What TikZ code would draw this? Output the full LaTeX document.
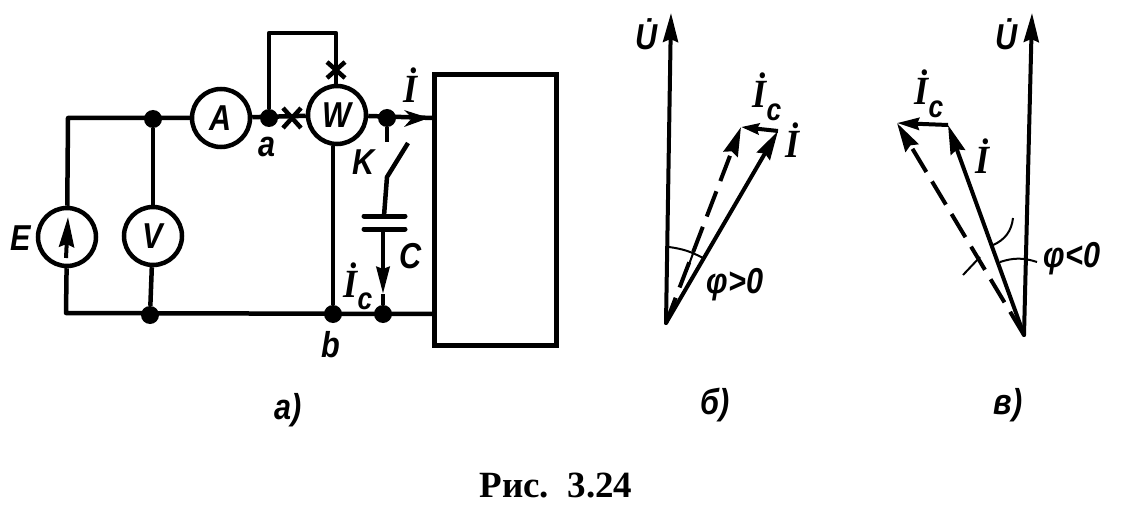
\documentclass[tikz,border=0pt]{standalone}
\usepackage{fontspec}
\setmainfont{Liberation Sans}[FakeStretch=0.85]
\newfontfamily\capfont{Liberation Serif}
\newfontfamily\serfont{Liberation Serif}[FakeStretch=0.9]
\usetikzlibrary{arrows.meta}
\newcommand\Idot{{\fontsize{40}{40}\selectfont\serfont\bfseries\itshape\.I}}
\newcommand\Ic{\Idot\raisebox{-.36em}{\fontsize{31}{31}\selectfont\bfseries\itshape c}}
\tikzset{
  x=1pt,y=-1pt,
  wire/.style={line width=4.5pt,black},
  meter/.style={draw,line width=4.5pt,circle,minimum size=58pt,inner sep=0pt,fill=white,font=\fontsize{36}{36}\selectfont\bfseries\itshape},
  jun/.style={circle,fill=black,minimum size=18pt,inner sep=0pt},
  lab/.style={font=\fontsize{36}{36}\selectfont\bfseries\itshape,inner sep=0pt,anchor=base},
  tip/.style={-{Stealth[length=29pt,width=15pt,inset=3pt]}},
  vec/.style={line width=4pt,tip},
  thinline/.style={line width=2pt},
  dvec/.style={line width=4pt,dash pattern=on 27pt off 11pt,tip},
}
\begin{document}
\begin{tikzpicture}
\useasboundingbox (0,0) rectangle (1142,513);
% circuit nodes
\node[meter] (E) at (67,237) {};
\node[meter] (V) at (153,236) {V};
\node[meter] (A) at (221,118) {A};
\node[meter] (W) at (337,115) {W};
\node[jun] (j1) at (153,119) {};
\node[jun] (j2) at (150,315) {};
\node[jun] (ja) at (269,118) {};
\node[jun] (jb) at (333,314) {};
\node[jun] (jr) at (387,118) {};
\node[jun] (jc) at (383,314) {};
\node[draw,line width=5pt,minimum width=122pt,minimum height=270pt,inner sep=0pt] (box) at (495,210) {};
\coordinate (tl) at (68,118);
\coordinate (bl) at (66,313);
\coordinate (lt1) at (269,33);
\coordinate (lt2) at (336,33);
\coordinate (boxin) at (433,118);
\coordinate (boxbot) at (433,314);
\coordinate (sw0) at (387,142);
\coordinate (sw1) at (408,143);
\coordinate (sw2) at (387,177);
\coordinate (pl1l) at (364,216);
\coordinate (pl1r) at (405,216);
\coordinate (pl2l) at (364,229);
\coordinate (pl2r) at (405,229);
\coordinate (pl1m) at (384,216);
\coordinate (pl2m) at (383,229);
\coordinate (ictip) at (383,294);
% wires
\draw[wire,line join=round] (E) -- (tl) -- (A);
\draw[wire] (V) -- (j1);
\draw[wire] (A) -- (W);
\draw[wire,line join=round] (ja) -- (lt1) -- (lt2) -- (lt2 |- W.north);
\draw[wire] (W) -- (boxin);
\draw[wire,line join=round] (E) -- (bl) -- (boxbot);
\draw[wire] (V) -- (j2);
\draw[wire] (W.south -| jb) -- (jb);
\draw[wire] (jr) -- (sw0);
\draw[wire] (sw1) -- (sw2) -- (pl1m);
\draw[wire,line width=5pt,line cap=round] (pl1l) -- (pl1r);
\draw[wire,line width=5pt,line cap=round] (pl2l) -- (pl2r);
\draw[wire,-{Stealth[length=27pt,width=13pt,inset=2pt]}] (pl2m) -- (ictip);
\draw[wire] (ictip) -- (jc);
% EMF arrow
\coordinate (ea) at (68,217);
\coordinate (eb) at (66,258);
\draw[line width=4pt,-{Stealth[length=30pt,width=15pt,inset=3pt]}] (eb) -- (ea);
% crosses
\draw[line width=4.5pt] (283,108) -- (301,128) (283,128) -- (301,108);
\draw[line width=4.5pt] (327,62) -- (345,78) (327,78) -- (345,62);
% current arrow I
\coordinate (ia) at (404,110);
\coordinate (ib) at (429,118);
\coordinate (ic) at (404,127);
\coordinate (id) at (412,118);
\fill (ia) -- (ib) -- (ic) -- (id) -- cycle;
% labels, circuit
\node[lab] (lE) at (21,250) {E};
\node[lab] (la) at (267,157) {a};
\node[lab] (lb) at (331,357) {b};
\node[lab] (lK) at (364,175) {K};
\node[lab] (lC) at (411,268) {C};
\node[lab] (lIc) at (358,297) {\Ic};
\node[lab] (lI) at (410,103) {\Idot};
\node[lab] (capa) at (288,419) {а)};
\node[lab] (capb) at (715,414) {б)};
\node[lab] (capv) at (1008,414) {в)};
\node[inner sep=0pt,anchor=base,font=\fontsize{37}{37}\selectfont\capfont\bfseries] (cap) at (556,497) {Рис.\ \ 3.24};
% vector diagram b
\coordinate (o1) at (666,323);
\coordinate (u1) at (671,13);
\coordinate (i1) at (778,131);
\coordinate (c1) at (741,127);
\draw[vec,line cap=round] (o1) -- (u1);
\draw[vec,line cap=round] (o1) -- (i1);
\draw[dvec] (o1) -- (c1);
\draw[line width=4pt,-{Stealth[length=18pt,width=11pt,inset=2pt]}] (i1) -- (c1);
\coordinate (a1a) at (669,247);
\coordinate (a1b) at (703,258);
\draw[thinline] (a1a) to[bend left=10] (a1b);
\coordinate (t1a) at (695,248);
\coordinate (t1b) at (687,270);
\draw[thinline] (t1a) -- (t1b);
\node[lab] (lU1) at (647,50) {\.U};
\node[lab] (lIc1) at (767,108) {\Ic};
\node[lab] (lI1) at (792,158) {\Idot};
\node[lab] (phi1) at (735,293) {φ>0};
% vector diagram v
\coordinate (o2) at (1024,335);
\coordinate (u2) at (1032,13);
\coordinate (i2) at (948,125);
\coordinate (c2) at (897,123);
\draw[vec,line cap=round] (o2) -- (u2);
\draw[vec,line cap=round] (o2) -- (i2);
\draw[dvec] (o2) -- (c2);
\draw[line width=4pt,-{Stealth[length=22pt,width=12pt,inset=2pt]}] (i2) -- (c2);
\coordinate (a2a) at (1000,262);
\coordinate (a2b) at (1037,262);
\draw[thinline] (a2a) to[bend left=18] (a2b);
\coordinate (a3a) at (1013,218);
\coordinate (a3b) at (993,245);
\draw[thinline] (a3a) to[bend left=30] (a3b);
\coordinate (t2a) at (963,275);
\coordinate (t2b) at (980,257);
\draw[thinline] (t2a) -- (t2b);
\node[lab] (lU2) at (1007,50) {\.U};
\node[lab] (lIc2) at (929,105) {\Ic};
\node[lab] (lI2) at (982,174) {\Idot};
\node[lab] (phi2) at (1072,267) {φ<0};
\end{tikzpicture}
\end{document}
